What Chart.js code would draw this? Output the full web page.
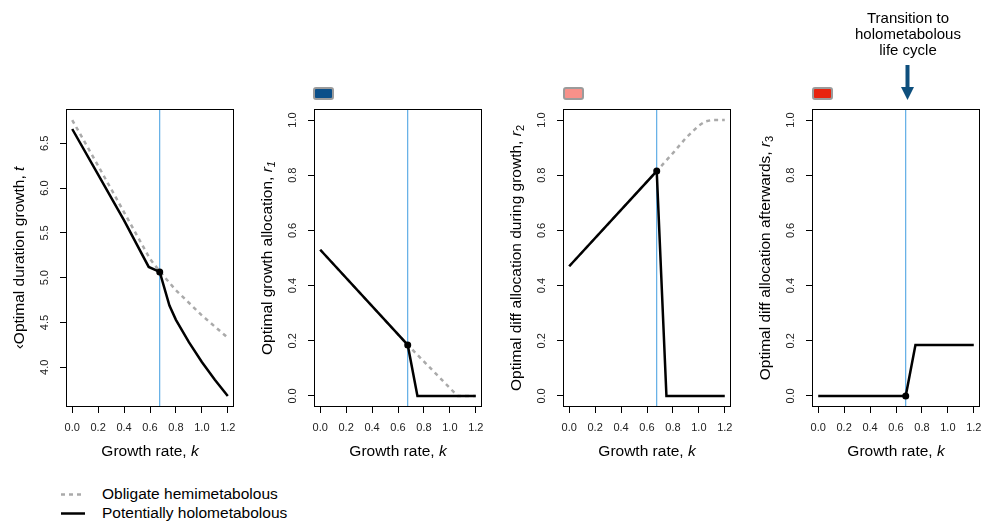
<!DOCTYPE html>
<html>
<head>
<meta charset="utf-8">
<script src="https://cdn.jsdelivr.net/npm/chart.js@4.4.0/dist/chart.umd.min.js"></script>
<style>
  body { margin: 0; background: #fff; overflow: hidden; }
  #fig { position: relative; width: 981px; height: 523px; overflow: hidden; font-family: "Liberation Sans", Arial, sans-serif; color: #000; }
  #fig canvas { position: absolute; top: 0; }
  .key { position: absolute; top: 87px; width: 17px; height: 9px; border: 2px solid #9b9b9b; border-radius: 3px; }
  #note { position: absolute; left: 838px; top: 10px; width: 140px; text-align: center; font-size: 15px; line-height: 16px; }
  .lg { position: absolute; left: 102px; font-size: 15.5px; line-height: 18px; }
</style>
</head>
<body>
<div id="fig">
  <canvas id="p1" width="238" height="480" style="left:0px"></canvas>
  <canvas id="p2" width="238" height="480" style="left:248px"></canvas>
  <canvas id="p3" width="238" height="480" style="left:497px"></canvas>
  <canvas id="p4" width="238" height="480" style="left:746px"></canvas>

  <div class="key" style="left:313px; background:#0b4f89"></div>
  <div class="key" style="left:563px; background:#f8918a"></div>
  <div class="key" style="left:812px; background:#e8240f"></div>

  <div id="note">Transition to<br>holometabolous<br>life cycle</div>
  <svg style="position:absolute; left:898px; top:60px" width="20" height="42">
    <line x1="9.5" y1="5" x2="9.5" y2="30" stroke="#0e4f7d" stroke-width="4"/>
    <polygon points="3,27 16,27 9.5,40" fill="#0e4f7d"/>
  </svg>

  <svg style="position:absolute; left:55px; top:485px" width="40" height="38">
    <line x1="6" y1="9.5" x2="30" y2="9.5" stroke="#aaaaaa" stroke-width="2.5" stroke-dasharray="4 4"/>
    <line x1="6" y1="28.5" x2="30" y2="28.5" stroke="#000" stroke-width="2.5"/>
  </svg>
  <div class="lg" style="top:485px">Obligate hemimetabolous</div>
  <div class="lg" style="top:504px">Potentially holometabolous</div>
</div>

<script>
// growth rate where the holometabolous strategy takes over
const kSwitch = 0.675;
const xTicks = [0, 0.2, 0.4, 0.6, 0.8, 1.0, 1.2];

// panel 1: optimal duration of growth, t
const kHemiT = [0, 0.2, 0.4, 0.6, 0.675, 0.8, 1.0, 1.2];
const tHemi  = [6.76, 6.25, 5.73, 5.21, 5.07, 4.86, 4.58, 4.33];
const kHoloT = [0, 0.2, 0.4, 0.59, 0.675, 0.75, 0.8, 0.9, 1.0, 1.1, 1.2];
const tHolo  = [6.66, 6.15, 5.64, 5.12, 5.065, 4.69, 4.53, 4.28, 4.06, 3.86, 3.68];
const yTicksT = [4.0, 4.5, 5.0, 5.5, 6.0, 6.5];

// panel 2: growth allocation, r1
const kHemiR1 = [0, 0.675, 1.06, 1.2];
const r1Hemi  = [0.53, 0.185, 0, 0];
const kHoloR1 = [0, 0.675, 0.75, 1.2];
const r1Holo  = [0.53, 0.185, 0, 0];

// panel 3: differentiation allocation during growth, r2
const kHemiR2 = [0, 0.675, 0.8, 0.9, 1.0, 1.05, 1.1, 1.2];
const r2Hemi  = [0.47, 0.815, 0.88, 0.935, 0.98, 0.995, 1.0, 1.0];
const kHoloR2 = [0, 0.675, 0.75, 1.2];
const r2Holo  = [0.47, 0.815, 0, 0];

// panel 4: differentiation allocation afterwards, r3
const kHoloR3 = [0, 0.675, 0.75, 1.2];
const r3Holo  = [0, 0, 0.185, 0.185];

const yTicksR = [0, 0.2, 0.4, 0.6, 0.8, 1.0];

const FONT = '"Liberation Sans", Arial, sans-serif';

function pts(xs, ys) { return xs.map((x, i) => ({ x: x, y: ys[i] })); }
// R style axis range: data range plus 4% each side
function rLim(lo, hi) { const d = (hi - lo) * 0.04; return [lo - d, hi + d]; }

function drawParts(ctx, parts, x, y, rot) {
  ctx.save();
  ctx.translate(x, y);
  ctx.rotate(rot);
  ctx.textBaseline = 'middle';
  ctx.fillStyle = '#000';
  const fontOf = p => (p.it ? 'italic ' : '') + (p.sub ? '11px ' : '15.5px ') + FONT;
  let total = 0;
  const widths = parts.map(p => { ctx.font = fontOf(p); const w = ctx.measureText(p.t).width; total += w; return w; });
  let cx = -total / 2;
  parts.forEach((p, i) => {
    ctx.font = fontOf(p);
    ctx.fillText(p.t, cx, p.sub ? 4 : 0);
    cx += widths[i];
  });
  ctx.restore();
}

const rFrame = {
  id: 'rFrame',
  afterDraw(chart, args, opts) {
    const { ctx, chartArea: a } = chart;
    ctx.save();
    ctx.strokeStyle = '#000';
    ctx.lineWidth = 1;
    ctx.strokeRect(a.left + 0.5, a.top + 0.5, a.width - 1, a.height - 1);
    ctx.restore();
    drawParts(ctx, opts.xTitle, (a.left + a.right) / 2, a.bottom + 45, 0);
    drawParts(ctx, opts.yTitle, a.left - 46.5, (a.top + a.bottom) / 2, -Math.PI / 2);
  }
};

// no extra room for overhanging tick labels, the canvas layout is fixed
function noPad(s) { s.paddingLeft = 0; s.paddingRight = 0; s.paddingTop = 0; s.paddingBottom = 0; }

function makePanel(id, yLim, yTicks, yTitle, hemi, holo, dot) {
  const datasets = [
    { data: [dot], type: 'scatter', pointRadius: 3.5, pointBackgroundColor: '#000', pointBorderWidth: 0 },
    { data: holo, borderColor: '#000', borderWidth: 2.5, pointRadius: 0 }
  ];
  if (hemi) datasets.push({ data: hemi, borderColor: '#aaaaaa', borderWidth: 2.5, borderDash: [4, 4], pointRadius: 0 });
  datasets.push({ data: [{ x: kSwitch, y: yLim[0] - 10 }, { x: kSwitch, y: yLim[1] + 10 }],
    borderColor: '#3f9de0', borderWidth: 1, pointRadius: 0 });

  const tickFont = { family: FONT, size: 11 };
  new Chart(document.getElementById(id), {
    type: 'line',
    data: { datasets: datasets },
    options: {
      responsive: false,
      animation: false,
      devicePixelRatio: 1,
      events: [],
      layout: { padding: { top: 109, bottom: 3, left: 0, right: 1 } },
      elements: { line: { tension: 0 } },
      plugins: {
        legend: { display: false },
        tooltip: { enabled: false },
        rFrame: { xTitle: [{ t: 'Growth rate, ' }, { t: 'k', it: true }], yTitle: yTitle }
      },
      scales: {
        x: {
          type: 'linear',
          min: rLim(0, 1.2)[0], max: rLim(0, 1.2)[1],
          afterBuildTicks: s => { s.ticks = xTicks.map(v => ({ value: v })); },
          afterFit: s => { s.height = 70; noPad(s); },
          grid: { drawOnChartArea: false, drawTicks: true, tickLength: 6, color: '#000' },
          border: { display: false },
          ticks: { font: tickFont, color: '#222', padding: 8, maxRotation: 0, autoSkip: false,
            callback: v => v.toFixed(1) }
        },
        y: {
          type: 'linear',
          min: yLim[0], max: yLim[1],
          afterBuildTicks: s => { s.ticks = yTicks.map(v => ({ value: v })); },
          afterFit: s => { s.width = 66; noPad(s); },
          grid: { drawOnChartArea: false, drawTicks: true, tickLength: 6, color: '#000' },
          border: { display: false },
          ticks: { font: tickFont, color: '#222', padding: 7, minRotation: 90, maxRotation: 90,
            crossAlign: 'center', autoSkip: false, callback: v => v.toFixed(1) }
        }
      }
    },
    plugins: [rFrame]
  });
}

const rRange = rLim(0, 1);

makePanel('p1', rLim(Math.min(...tHolo), Math.max(...tHemi)), yTicksT,
  [{ t: '\u2039Optimal duration growth, ' }, { t: 't', it: true }],
  pts(kHemiT, tHemi), pts(kHoloT, tHolo), { x: kSwitch, y: 5.065 });

makePanel('p2', rRange, yTicksR,
  [{ t: 'Optimal growth allocation, ' }, { t: 'r', it: true }, { t: '1', it: true, sub: true }],
  pts(kHemiR1, r1Hemi), pts(kHoloR1, r1Holo), { x: kSwitch, y: 0.185 });

makePanel('p3', rRange, yTicksR,
  [{ t: 'Optimal diff allocation during growth, ' }, { t: 'r', it: true }, { t: '2', sub: true }],
  pts(kHemiR2, r2Hemi), pts(kHoloR2, r2Holo), { x: kSwitch, y: 0.815 });

makePanel('p4', rRange, yTicksR,
  [{ t: 'Optimal diff allocation afterwards, ' }, { t: 'r', it: true }, { t: '3', sub: true }],
  null, pts(kHoloR3, r3Holo), { x: kSwitch, y: 0 });
</script>
</body>
</html>
